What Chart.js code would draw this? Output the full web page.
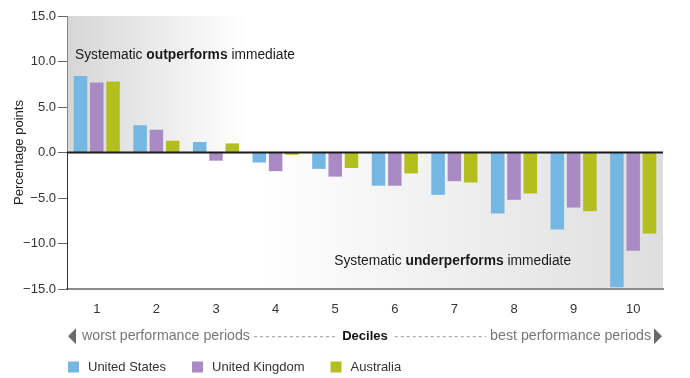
<!DOCTYPE html>
<html>
<head>
<meta charset="utf-8">
<script src="https://cdn.jsdelivr.net/npm/chart.js@4.4.1/dist/chart.umd.min.js"></script>
<style>
    html, body { margin: 0; padding: 0; background: #fff; }
    #wrap { width: 690px; height: 378px; position: relative; }
</style>
</head>
<body>
<div id="wrap"><canvas id="chartDeciles"></canvas></div>
<script>
const deciles = ['1', '2', '3', '4', '5', '6', '7', '8', '9', '10'];
const unitedStates = [8.4, 3.0, 1.15, -1.1, -1.8, -3.65, -4.65, -6.7, -8.45, -14.8];
const unitedKingdom = [7.7, 2.5, -0.9, -2.05, -2.65, -3.65, -3.15, -5.2, -6.05, -10.8];
const australia = [7.8, 1.3, 1.0, -0.25, -1.7, -2.3, -3.3, -4.5, -6.45, -8.9];
const seriesNames = ['United States', 'United Kingdom', 'Australia'];
const seriesColors = ['#74b7e3', '#a98ac5', '#b3bf1e'];
const yMin = -15, yMax = 15, yStep = 5;

const FONT = "'Liberation Sans', Arial, sans-serif";
Chart.defaults.font.family = FONT;
Chart.defaults.font.size = 13;
Chart.defaults.color = '#333';

// draws a line made of plain and bold pieces, left aligned
function mixedText(ctx, parts, x, y) {
    parts.forEach(function (p) {
        ctx.font = (p[1] ? 'bold ' : '') + '13.8px ' + FONT;
        ctx.fillText(p[0], x, y);
        x += ctx.measureText(p[0]).width;
    });
}

const decor = {
    id: 'decor',
    beforeDatasetsDraw(chart) {
        const { ctx, chartArea: a, scales: { x, y } } = chart;
        const y0 = y.getPixelForValue(0);
        const cw = (a.right - a.left) / deciles.length;
        ctx.save();
        // shaded zone top left
        const topEnd = a.left + cw * 3;
        let g = ctx.createLinearGradient(a.left, 0, topEnd, 0);
        g.addColorStop(0, '#d6d6d6');
        g.addColorStop(1, '#ffffff');
        ctx.fillStyle = g;
        ctx.fillRect(a.left + 0.5, a.top, topEnd - a.left, y0 - a.top);
        // shaded zone bottom right
        const botStart = a.left + cw * 3.25;
        g = ctx.createLinearGradient(botStart, 0, a.right, 0);
        g.addColorStop(0, '#ffffff');
        g.addColorStop(1, '#dedede');
        ctx.fillStyle = g;
        ctx.fillRect(botStart, y0, a.right - botStart, a.bottom - 1 - y0);

        ctx.fillStyle = '#1a1a1a';
        ctx.textBaseline = 'middle';
        ctx.textAlign = 'left';
        mixedText(ctx, [['Systematic ', false], ['outperforms', true], [' immediate', false]],
            a.left + 8, y.getPixelForValue(10.7));
        mixedText(ctx, [['Systematic ', false], ['underperforms', true], [' immediate', false]],
            x.getPixelForValue(4) - 1, y.getPixelForValue(-11.9));
        ctx.restore();
    },
    afterDatasetsDraw(chart) {
        const { ctx, chartArea: a, scales: { y } } = chart;
        const y0 = y.getPixelForValue(0);
        ctx.save();
        ctx.strokeStyle = '#1a1a1a';
        ctx.lineWidth = 2;
        ctx.beginPath();
        ctx.moveTo(a.left, y0);
        ctx.lineTo(a.right, y0);
        ctx.stroke();
        ctx.restore();
    },
    afterDraw(chart) {
        const { ctx, chartArea: a, scales: { x } } = chart;
        ctx.save();
        // row under the axis: arrows, end labels, dashes round the title
        const rowY = x.bottom - 7.8 - 5;
        ctx.fillStyle = '#6a6a6a';
        ctx.beginPath();
        ctx.moveTo(a.left + 1, rowY);
        ctx.lineTo(a.left + 9, rowY - 8);
        ctx.lineTo(a.left + 9, rowY + 8);
        ctx.closePath();
        ctx.fill();
        ctx.beginPath();
        ctx.moveTo(a.right - 1, rowY);
        ctx.lineTo(a.right - 9, rowY - 8);
        ctx.lineTo(a.right - 9, rowY + 8);
        ctx.closePath();
        ctx.fill();

        ctx.font = '14.2px ' + FONT;
        ctx.fillStyle = '#777';
        ctx.textBaseline = 'middle';
        ctx.textAlign = 'left';
        const leftLabel = 'worst performance periods';
        const rightLabel = 'best performance periods';
        const lx = a.left + 15;
        ctx.fillText(leftLabel, lx, rowY);
        const lEnd = lx + ctx.measureText(leftLabel).width;
        ctx.textAlign = 'right';
        const rx = a.right - 12;
        ctx.fillText(rightLabel, rx, rowY);
        const rStart = rx - ctx.measureText(rightLabel).width;

        ctx.font = 'bold 13px ' + FONT;
        const mid = (a.left + a.right) / 2;
        const tw = ctx.measureText('Deciles').width;
        ctx.strokeStyle = '#999';
        ctx.lineWidth = 1;
        ctx.setLineDash([3, 3]);
        ctx.beginPath();
        ctx.moveTo(lEnd + 4, rowY + 0.5);
        ctx.lineTo(mid - tw / 2 - 7, rowY + 0.5);
        ctx.moveTo(mid + tw / 2 + 7, rowY + 0.5);
        ctx.lineTo(rStart - 4, rowY + 0.5);
        ctx.stroke();
        ctx.setLineDash([]);

        // legend
        const legY = 367;
        let lxp = a.left + 1;
        ctx.font = '13px ' + FONT;
        ctx.textAlign = 'left';
        chart.data.datasets.forEach(function (ds) {
            ctx.fillStyle = ds.backgroundColor;
            ctx.fillRect(lxp, legY - 5.5, 11, 11);
            ctx.fillStyle = '#333';
            ctx.fillText(ds.label, lxp + 20, legY);
            lxp += 20 + ctx.measureText(ds.label).width + 26;
        });
        ctx.restore();
    }
};

new Chart(document.getElementById('chartDeciles').getContext('2d'), {
    type: 'bar',
    data: {
        labels: deciles,
        datasets: [unitedStates, unitedKingdom, australia].map(function (vals, i) {
            return {
                label: seriesNames[i],
                data: vals,
                backgroundColor: seriesColors[i],
                categoryPercentage: 0.82,
                barPercentage: 0.83
            };
        })
    },
    options: {
        responsive: true,
        maintainAspectRatio: false,
        animation: false,
        layout: { padding: { top: 16, right: 27, left: 0, bottom: 29 } },
        plugins: { legend: { display: false }, tooltip: { enabled: false } },
        scales: {
            x: {
                grid: { display: false },
                border: { display: true, color: '#8c8c8c', width: 2 },
                ticks: { color: '#333', padding: 5, font: { size: 13 } },
                title: {
                    display: true,
                    text: 'Deciles',
                    color: '#111',
                    font: { size: 13, weight: 'bold' },
                    padding: { top: 0, bottom: 5 }
                },
                afterFit: function (scale) { scale.height = 60; }
            },
            y: {
                min: yMin,
                max: yMax,
                ticks: {
                    stepSize: yStep,
                    color: '#333',
                    padding: 2,
                    font: { size: 13 },
                    callback: function (v) { return (v < 0 ? '\u2212' : '') + Math.abs(v).toFixed(1); }
                },
                grid: { drawOnChartArea: false, tickLength: 9, color: '#666' },
                border: { display: true, color: '#333', width: 1 },
                title: {
                    display: true,
                    text: 'Percentage points',
                    color: '#222',
                    font: { size: 13 },
                    padding: { top: 12, bottom: 0 }
                },
                afterFit: function (scale) { scale.width = 67; }
            }
        }
    },
    plugins: [decor]
});
</script>
</body>
</html>
